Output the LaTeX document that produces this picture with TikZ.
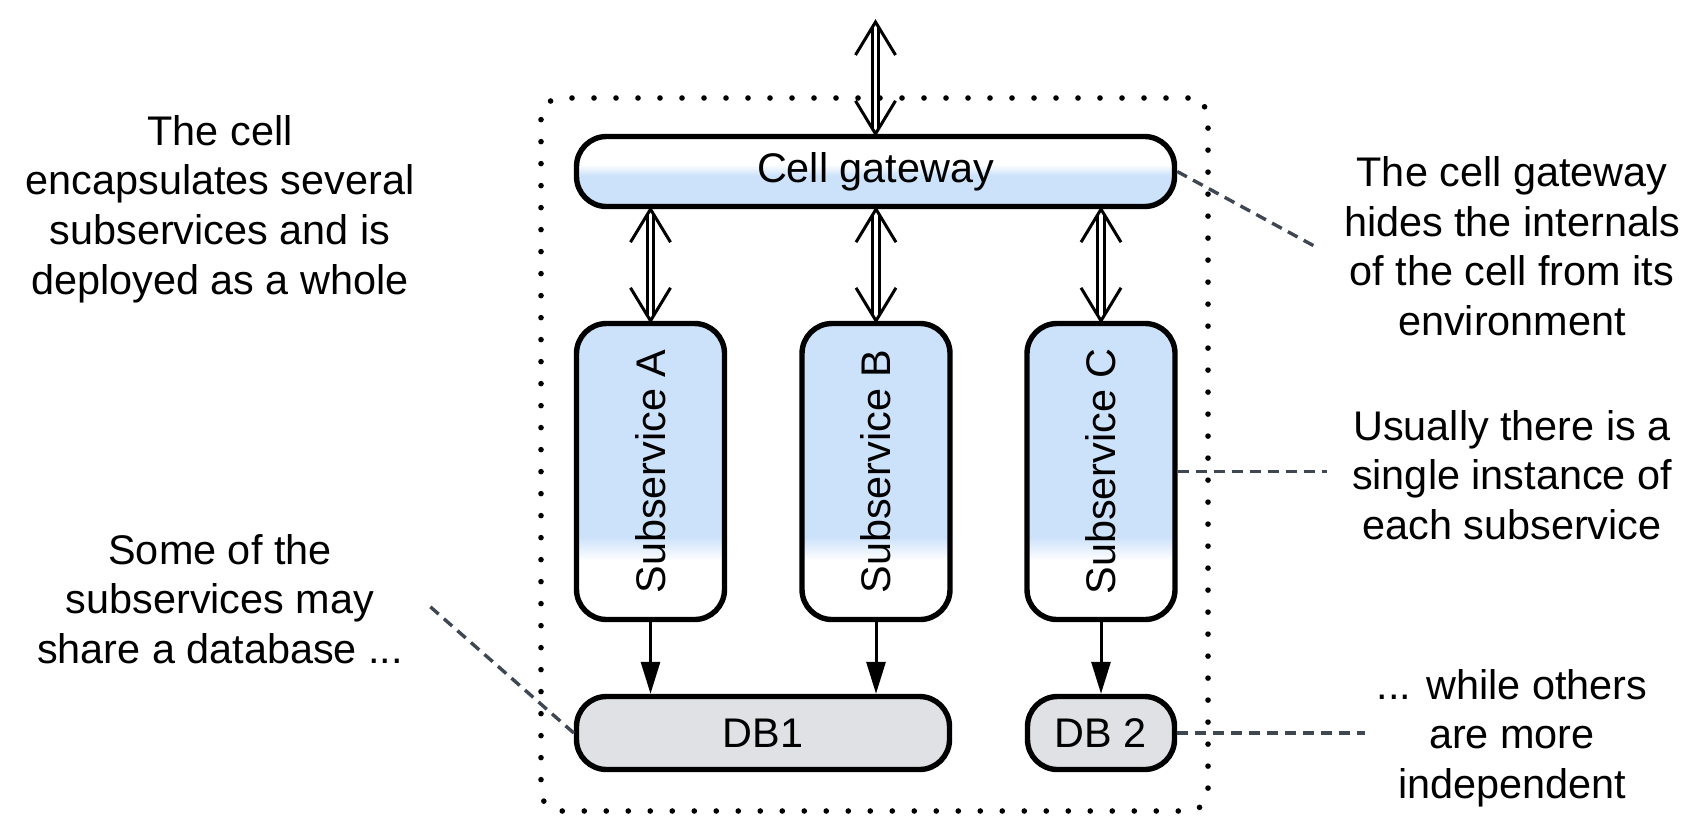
\documentclass[tikz,border=0pt]{standalone}
\usepackage{fontspec}
\setmainfont{Liberation Sans}
\usetikzlibrary{arrows.meta,calc}
\definecolor{cellblue}{HTML}{CCE1FA}
\definecolor{dbgray}{HTML}{DFE1E5}
\definecolor{notegray}{HTML}{3F4753}
\pgfdeclareverticalshading{gwshade}{100bp}{color(0bp)=(cellblue); color(47bp)=(cellblue); color(55bp)=(white); color(100bp)=(white)}
\pgfdeclareverticalshading{subshade}{100bp}{color(0bp)=(white); color(35bp)=(white); color(39bp)=(cellblue); color(100bp)=(cellblue)}
\newcommand\dblarr[2]{%
  \draw[dblstyle] ([xshift=-1.7pt,yshift=-2.8pt]#1) -- ([xshift=-1.7pt,yshift=2.8pt]#2);
  \draw[dblstyle] ([xshift=1.7pt,yshift=-2.8pt]#1) -- ([xshift=1.7pt,yshift=2.8pt]#2);
  \draw[dblstyle] ([xshift=-10pt,yshift=-16.5pt]#1) -- (#1) -- ([xshift=10pt,yshift=-16.5pt]#1);
  \draw[dblstyle] ([xshift=-10pt,yshift=16.5pt]#2) -- (#2) -- ([xshift=10pt,yshift=16.5pt]#2);
}
\begin{document}
\begin{tikzpicture}[x=0.5pt,y=-0.5pt,
  font=\fontsize{20.7}{24.8}\selectfont,
  box/.style={draw=black, line width=2.7pt, rounded corners=15pt, inner sep=0pt},
  gwbox/.style={box, shade, shading=gwshade, minimum width=299pt, minimum height=35pt},
  subbox/.style={box, shade, shading=subshade, minimum width=74pt, minimum height=148pt},
  dbbox/.style={box, fill=dbgray, minimum height=36.5pt},
  cellframe/.style={draw, line width=2.8pt, dash pattern=on 0pt off 11pt, line cap=round, rounded corners=10pt, minimum width=333.5pt, minimum height=356.5pt, inner sep=0pt},
  note/.style={align=center, inner sep=0pt},
  link/.style={draw=notegray, line width=1.7pt, dash pattern=on 5.5pt off 3.5pt},
  flow/.style={draw, line width=1.5pt, -{Triangle[length=16pt,width=9.5pt]}},
  dblstyle/.style={draw, line width=1.5pt, line join=miter}
]
\useasboundingbox (0,0) rectangle (1706,836);

\node[cellframe] (cell) at (874.5,454.5) {};

\node[gwbox] (gw) at (875.5,171.5) {Cell gateway};
\node[subbox] (sa) at (650.5,471.5) {\rotatebox{90}{Subservice A}};
\node[subbox] (sb) at (876,471.5) {\rotatebox{90}{Subservice B}};
\node[subbox] (sc) at (1101,471.5) {\rotatebox{90}{Subservice C}};
\node[dbbox, minimum width=186.5pt] (db1) at (763,733) {DB1};
\node[dbbox, minimum width=73.5pt] (db2) at (1101,733) {DB 2};

\node[note] (n1) at (220,209) {The cell\\encapsulates several\\subservices and is\\deployed as a whole};
\node[note] (n2) at (220,599) {Some of the\\subservices may\\share a database ...};
\node[note] (n3) at (1512,246) {The cell gateway\\hides the internals\\of the cell from its\\environment};
\node[note] (n4) at (1512,475) {Usually there is a\\single instance of\\each subservice};
\node[note] (n5) at (1512,738) {... while others\\are more\\independent};

% double arrows
\coordinate (top) at (875.5,22);
\coordinate (ga) at (sa.north |- gw.south);
\coordinate (gb) at (sb.north |- gw.south);
\coordinate (gc) at (sc.north |- gw.south);
\dblarr{top}{gw.north}
\dblarr{ga}{sa.north}
\dblarr{gb}{sb.north}
\dblarr{gc}{sc.north}

% flows to databases
\draw[flow] (sa.south) -- (sa.south |- db1.north);
\draw[flow] (sb.south) -- (sb.south |- db1.north);
\draw[flow] (sc.south) -- (db2.north);

% annotation links
\coordinate (l3) at (1316,247);
\coordinate (l4) at (1327,471.5);
\coordinate (l5) at (1365,733);
\coordinate (l2) at (426,603);
\draw[link] (gw.east) -- (l3);
\draw[link] (sc.east) -- (l4);
\draw[link] (db2.east) -- (l5);
\draw[link] (db1.west) -- (l2);
\end{tikzpicture}
\end{document}
